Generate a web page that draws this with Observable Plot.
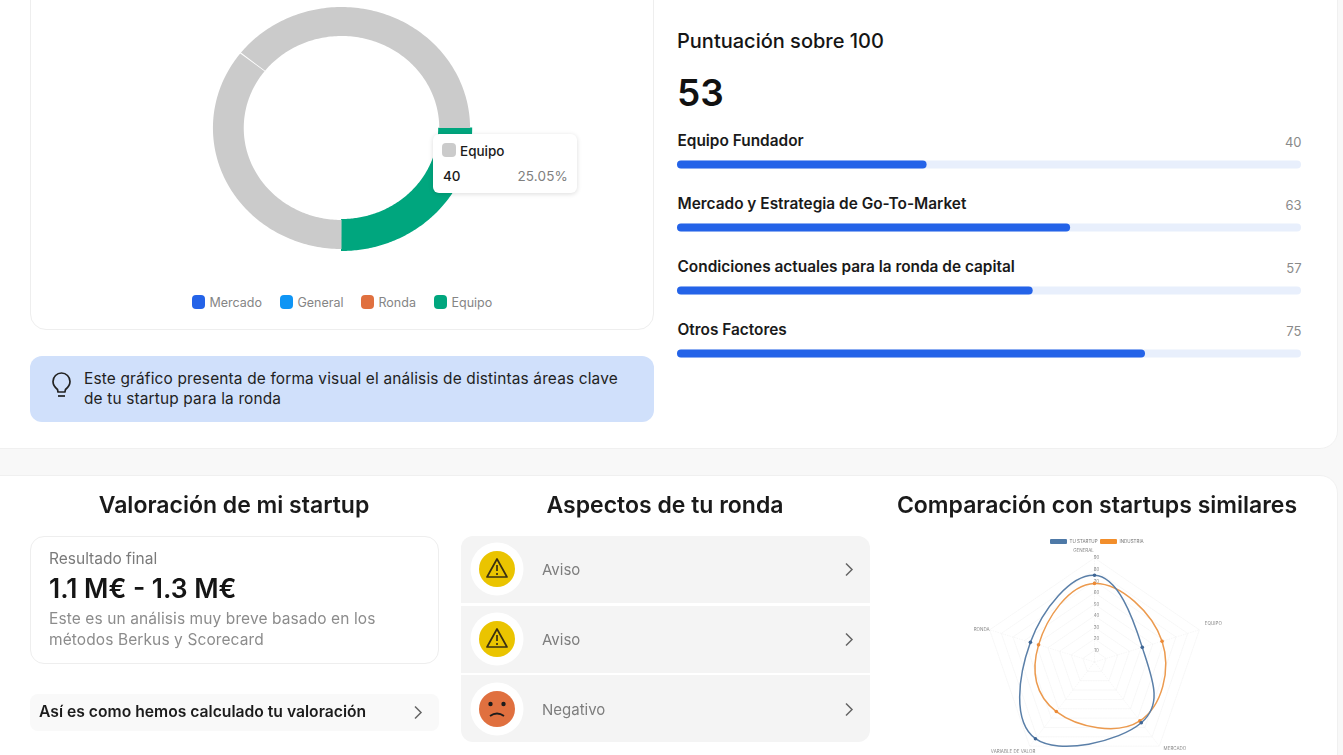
<!DOCTYPE html>
<html lang="es"><head><meta charset="utf-8">
<script src="https://cdn.jsdelivr.net/npm/d3@7"></script>
<script src="https://cdn.jsdelivr.net/npm/@observablehq/plot@0.6"></script>
<style>
html,body{margin:0;padding:0;width:1343px;height:755px;overflow:hidden;background:#f8f8f8;font-family:Inter,sans-serif;color:#1a1a1a}
#page{position:absolute;left:0;top:0;width:1343px;height:755px;overflow:hidden;filter:blur(.3px)}
.a{position:absolute;box-sizing:border-box}
.t{position:absolute;white-space:nowrap;transform:translateY(-50%);line-height:1}
.c{transform:translate(-50%,-50%)}
.card{background:#fff;border:1px solid #f0f0f0;border-radius:18px}
.plot{position:absolute}
.plot svg{display:block;overflow:visible;background:transparent}
.row{background:#f4f4f4;left:461px;width:409px}
.chev{position:absolute}
</style></head><body><div id="page">
<div class="a card" style="left:-30px;top:-30px;width:1368px;height:479px"></div>
<div class="a card" style="left:-30px;top:475px;width:1368px;height:320px"></div>
<div class="a" style="left:30px;top:-30px;width:624px;height:360px;border:1px solid #eee;border-radius:16px"></div>
<div id="donut" class="plot" style="left:200px;top:0"></div>
<div id="legend"></div>
<div class="a" style="left:433px;top:134px;width:144px;height:59px;background:#fff;border-radius:6px;box-shadow:0 1px 5px rgba(0,0,0,.14)"></div>
<div class="a" style="left:442px;top:143px;width:14px;height:14px;background:#cbcbcb;border-radius:4px"></div>
<div class="t" style="left:460px;top:151.500px;font-size:13.5px;font-weight:500">Equipo</div>
<div class="t" style="left:443px;top:176.500px;font-size:13.5px;font-weight:500">40</div>
<div class="t" style="right:775px;top:176.500px;font-size:13.5px;color:#808080;letter-spacing:.15px">25.05%</div>
<div class="a" style="left:30px;top:356px;width:624px;height:66px;background:#d0e0fb;border-radius:12px"></div>
<svg class="a" style="left:50px;top:371px" width="24" height="28" viewBox="0 0 24 28" fill="none" stroke="#222" stroke-width="1.7"><path d="M7.5 18.5C5 16.5 3 14 3 10.5 3 5.8 6.8 2 11.5 2S20 5.800 20 10.500c0 3.500-2 6-4.500 8l-.6 2.500H8z"/><path d="M8 25h7"/></svg>
<div class="t" style="left:84px;top:378.500px;font-size:15.400px;color:#222;letter-spacing:.17px">Este gráfico presenta de forma visual el análisis de distintas áreas clave</div>
<div class="t" style="left:84px;top:398.500px;font-size:15.400px;color:#222;letter-spacing:.17px">de tu startup para la ronda</div>

<div class="t" style="left:677px;top:40.500px;font-size:20px;font-weight:500;color:#151515">Puntuación sobre 100</div>
<div class="t" style="left:677px;top:92px;font-size:37px;font-weight:600;color:#111">53</div>
<div id="bars" class="plot" style="left:677px;top:126px"></div>

<div class="t c" style="left:234px;top:505px;font-size:23px;font-weight:600">Valoración de mi startup</div>
<div class="t c" style="left:665px;top:505px;font-size:23px;font-weight:600">Aspectos de tu ronda</div>
<div class="t c" style="left:1097px;top:505px;font-size:23px;font-weight:600">Comparación con startups similares</div>

<div class="a" style="left:30px;top:536px;width:409px;height:128px;border:1px solid #eee;border-radius:14px"></div>
<div class="t" style="left:49px;top:558.500px;font-size:15.500px;color:#7a7a7a">Resultado final</div>
<div class="t" style="left:49px;top:588px;font-size:26.400px;font-weight:600;color:#151515">1.1 M€ - 1.3 M€</div>
<div class="t" style="left:49px;top:619px;font-size:15.500px;color:#8c8c8c;letter-spacing:.1px">Este es un análisis muy breve basado en los</div>
<div class="t" style="left:49px;top:640px;font-size:15.500px;color:#8c8c8c;letter-spacing:.1px">métodos Berkus y Scorecard</div>
<div class="a" style="left:30px;top:694px;width:409px;height:37px;background:#f9f9f9;border-radius:8px"></div>
<div class="t" style="left:39px;top:712px;font-size:15.700px;font-weight:600;color:#1c1c1c">Así es como hemos calculado tu valoración</div>
<svg class="chev" style="left:412px;top:705px" width="12" height="15" viewBox="0 0 12 15" fill="none" stroke="#666" stroke-width="1.5"><path d="M3 1.500l6 6-6 6"/></svg>

<div class="a row" style="top:536px;height:67px;border-radius:12px 12px 0 0"></div>
<div class="a row" style="top:606px;height:67px"></div>
<div class="a row" style="top:675px;height:67px;border-radius:0 0 12px 12px"></div>
<div id="aspects"></div>

<div id="radarWrap" class="a" style="left:950px;top:530px;width:290px;height:225px;filter:blur(.5px)">
  <div class="a" style="left:100px;top:9px;width:17px;height:5px;background:#4e79a7;border-radius:1px"></div>
  <div class="t" style="left:119.500px;top:11.500px;font-size:4.500px;color:#777">TU STARTUP</div>
  <div class="a" style="left:150px;top:9px;width:17px;height:5px;background:#f28e2b;border-radius:1px"></div>
  <div class="t" style="left:169.500px;top:11.500px;font-size:4.500px;color:#777">INDUSTRIA</div>
  <div id="radar" class="plot" style="left:0;top:0"></div>
</div>
</div>
<script>
// ---------- donut ----------
const donutNames = ["Equipo", "Ronda", "General", "Mercado"];
const donutValues = [40, 57, 0, 63];
const donutFills = ["#00a67e", "#cbcbcb", "#cbcbcb", "#cbcbcb"];
const legendNames = ["Mercado", "General", "Ronda", "Equipo"];
const legendFills = ["#2463e8", "#0f95f5", "#e0703f", "#00a67e"];
const legendX = [192, 280, 361, 434];
// ---------- score bars ----------
const scoreNames = ["Equipo Fundador", "Mercado y Estrategia de Go-To-Market", "Condiciones actuales para la ronda de capital", "Otros Factores"];
const scoreValues = [40, 63, 57, 75];
// ---------- aspects ----------
const aspectNames = ["Aviso", "Aviso", "Negativo"];
// ---------- radar ----------
const radarAxes = ["GENERAL", "EQUIPO", "MERCADO", "VARIABLE DE VALOR", "RONDA"];
const startupValues = [75, 41, 65, 82, 55];
const industryValues = [68, 58, 63, 53, 48];
const radarTicks = [10, 20, 30, 40, 50, 60, 70, 80, 90];

// donut
const pie = d3.pie().sort(null).startAngle(Math.PI / 2).endAngle(Math.PI * 2.5).padAngle(0.009)(donutValues);
const arcRows = [];
pie.forEach((s, i) => {
  if (donutValues[i] === 0) return;
  const active = donutNames[i] === "Equipo";
  const r0 = active ? 91 : 92, r1 = active ? 123 : 121;
  const a0 = active ? s.startAngle - 0.004 : s.startAngle, a1 = active ? s.endAngle + 0.004 : s.endAngle;
  d3.range(0, 121).forEach(k => {
    const a = a0 + (a1 - a0) * k / 120;
    arcRows.push({name: donutNames[i], x1: r0 * Math.sin(a), y1: r0 * Math.cos(a), x2: r1 * Math.sin(a), y2: r1 * Math.cos(a)});
  });
});
const donut = Plot.plot({
  width: 284, height: 264, margin: 0,
  x: {axis: null, domain: [-141.5 / 1.0625, 142.5 / 1.0625], range: [0, 284]},
  y: {axis: null, domain: [-136, 128], range: [264, 0]},
  color: {domain: donutNames, range: donutFills},
  marks: [Plot.area(arcRows, {x1: "x1", y1: "y1", x2: "x2", y2: "y2", z: "name", fill: "name", curve: "linear"})]
});
document.getElementById("donut").append(donut);

// legend
document.getElementById("legend").innerHTML = legendNames.map((n, i) =>
  `<div class="a" style="left:${legendX[i]}px;top:295px;width:13px;height:14px;background:${legendFills[i]};border-radius:4px"></div>` +
  `<div class="t" style="left:${legendX[i] + 17.5}px;top:303px;font-size:12.500px;color:#858585">${n}</div>`).join("");

// score bars
const scoreRows = scoreNames.map((name, i) => ({name, value: scoreValues[i], full: 100}));
const bars = Plot.plot({
  width: 626, height: 270, margin: 0,
  x: {axis: null, domain: [0, 100], range: [0, 624]},
  y: {axis: null, domain: scoreNames, range: [6.500, 258.500], padding: 0},
  marks: [
    Plot.barX(scoreRows, {x: "full", y: "name", fill: "#e8effc", rx: 4, insetTop: 27.500, insetBottom: 27.500}),
    Plot.barX(scoreRows, {x: "value", y: "name", fill: "#2463e8", rx: 4, insetTop: 27.500, insetBottom: 27.500}),
    Plot.text(scoreRows, {x: 0, y: "name", text: "name", textAnchor: "start", dy: -23.500, fontSize: 15.4, fontWeight: 600, fill: "#1a1a1a", fontFamily: "Inter"}),
    Plot.text(scoreRows, {x: "full", y: "name", text: d => String(d.value), textAnchor: "end", dy: -22, fontSize: 13, fill: "#8a8a8a", fontFamily: "Inter"})
  ]
});
document.getElementById("bars").append(bars);

// aspects
const warn = `<circle cx="27" cy="27" r="18" fill="#eac400"/><path d="M27 17 37 35H17z" fill="none" stroke="#3a3012" stroke-width="1.700" stroke-linejoin="round"/><path d="M27 23v6M27 31v2" stroke="#3a3012" stroke-width="1.700"/>`;
const sad = `<circle cx="27" cy="27" r="18" fill="#e0703f"/><circle cx="20.500" cy="22" r="2.200" fill="#1c1c1c"/><circle cx="33.500" cy="22" r="2.200" fill="#1c1c1c"/><path d="M20 34q7-5 14 0" fill="none" stroke="#1c1c1c" stroke-width="1.800"/>`;
const rowY = [569, 639, 709];
document.getElementById("aspects").innerHTML = aspectNames.map((n, i) =>
  `<svg class="a" style="left:470px;top:${rowY[i] - 27}px" width="54" height="54"><circle cx="27" cy="27" r="26.500" fill="#fff"/>${n === "Negativo" ? sad : warn}</svg>` +
  `<div class="t" style="left:542px;top:${rowY[i] - 0.5}px;font-size:15px;color:#7d7d7d">${n}</div>` +
  `<svg class="chev" style="left:843px;top:${rowY[i] - 7.5}px" width="12" height="15" viewBox="0 0 12 15" fill="none" stroke="#666" stroke-width="1.500"><path d="M3 1.500l6 6-6 6"/></svg>`).join("");

// radar
const polar = (axisIndex, r) => {
  const a = axisIndex * 2 * Math.PI / radarAxes.length;
  return {x: r * Math.sin(a), y: r * Math.cos(a)};
};
const seriesRows = (name, vals) => vals.map((v, i) => ({name, ...polar(i, v)}));
const ringRows = radarTicks.flatMap(t => radarAxes.concat(radarAxes[0]).map((_, i) => ({tick: t, ...polar(i, t)})));
const spokeRows = radarAxes.map((_, i) => ({x1: 0, y1: 0, x2: polar(i, 90).x, y2: polar(i, 90).y}));
const startupRows = seriesRows("TU STARTUP", startupValues);
const industryRows = seriesRows("INDUSTRIA", industryValues);
const labelRows = radarAxes.map((name, i) => ({name, ...polar(i, 102)}));
const axisLabel = (name, dx, dy) => Plot.text(labelRows.filter(d => d.name === name), {x: "x", y: "y", text: "name", dx, dy, fontSize: 4.5, fill: "#888", fontFamily: "Inter"});
const radar = Plot.plot({
  width: 290, height: 225, margin: 0,
  x: {axis: null, domain: [-144 / 1.225, 146 / 1.225], range: [0, 290]},
  y: {axis: null, domain: [-93.5 / 1.156, 131.5 / 1.156], range: [225, 0]},
  marks: [
    Plot.line(ringRows, {x: "x", y: "y", z: "tick", stroke: "#efefef", strokeWidth: .5, strokeDasharray: "1.5,1", curve: "linear"}),
    Plot.link(spokeRows, {x1: "x1", y1: "y1", x2: "x2", y2: "y2", stroke: "#efefef", strokeWidth: .5, strokeDasharray: "1.5,1"}),
    Plot.text(radarTicks, {x: 0, y: d => d, text: d => String(d), dx: 2, fontSize: 4.5, fill: "#888", fontFamily: "Inter"}),
    Plot.line(industryRows, {x: "x", y: "y", stroke: "#ec9a4e", strokeWidth: 1.5, curve: "cardinal-closed", tension: -0.25}),
    Plot.line(startupRows, {x: "x", y: "y", stroke: "#5a7fa8", strokeWidth: 1.5, curve: "cardinal-closed", tension: -0.25}),
    Plot.dot(industryRows, {x: "x", y: "y", r: 1.8, fill: "#ec8a36"}),
    Plot.dot(startupRows, {x: "x", y: "y", r: 1.8, fill: "#3f6695"}),
    axisLabel("GENERAL", -11, 6),
    axisLabel("EQUIPO", 0, -2),
    axisLabel("MERCADO", 7, -9),
    axisLabel("VARIABLE DE VALOR", -8, -6),
    axisLabel("RONDA", 6, 4)
  ]
});
document.getElementById("radar").append(radar);
</script>
</body></html>
